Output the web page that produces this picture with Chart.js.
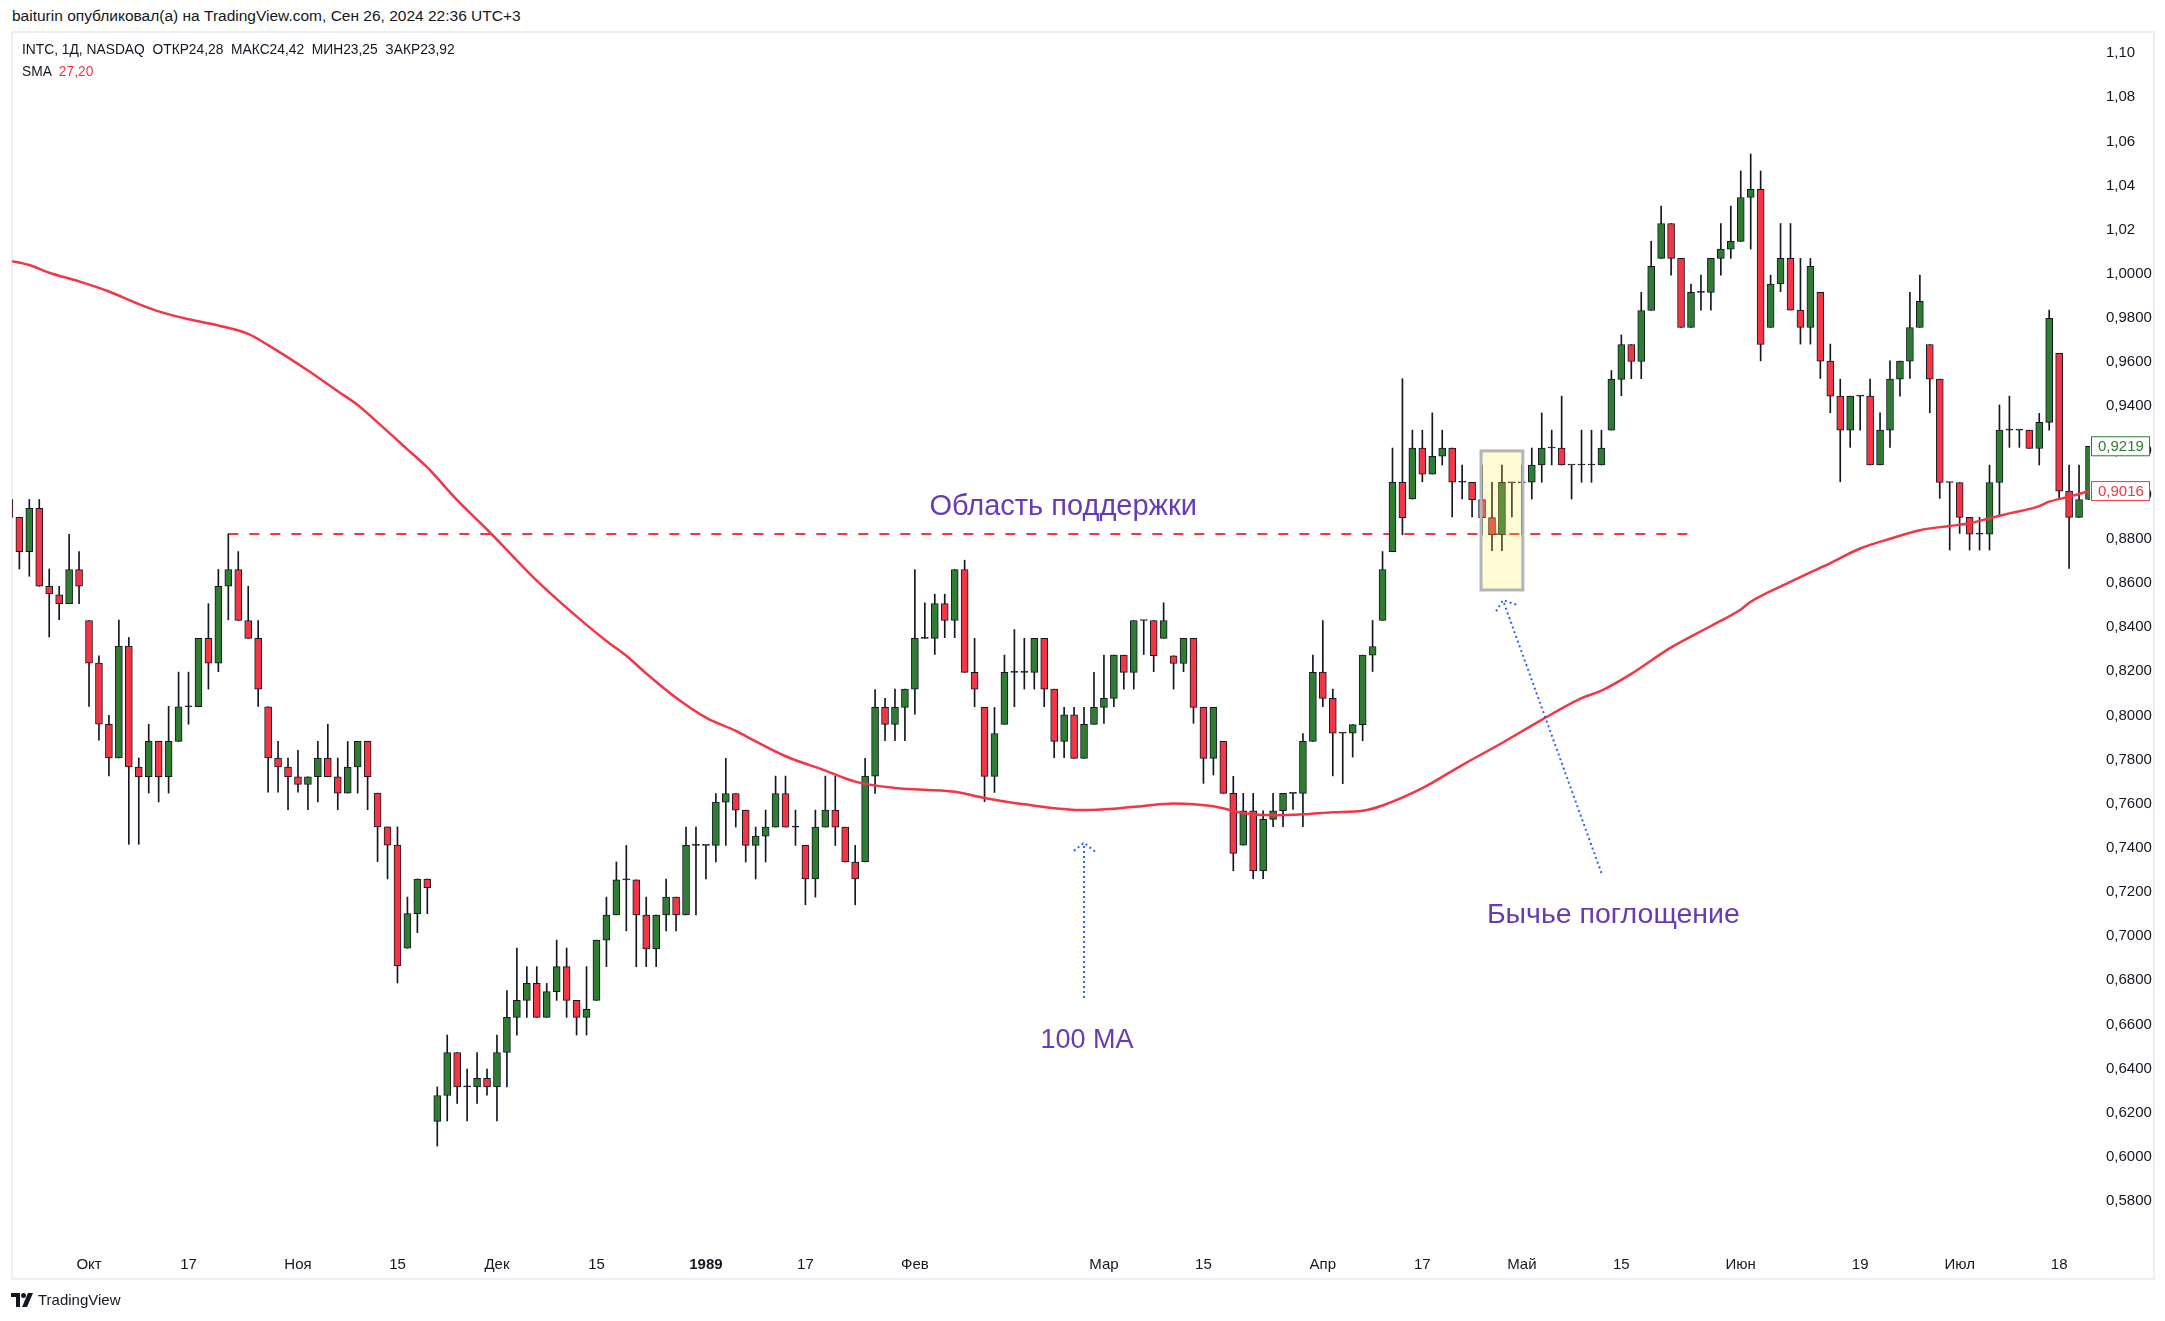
<!DOCTYPE html>
<html>
<head>
<meta charset="utf-8">
<script src="https://cdn.jsdelivr.net/npm/chart.js@4.4.1/dist/chart.umd.min.js"></script>
<style>
  html, body { margin: 0; padding: 0; background: #fff; }
  body { width: 2165px; height: 1321px; position: relative; overflow: hidden;
         font-family: "Liberation Sans", Arial, sans-serif; color: #131722; }
  .byline { position: absolute; left: 12px; top: 7px; font-size: 15.5px; white-space: pre; }
  .panel { position: absolute; left: 11px; top: 31px; width: 2144px; height: 1249px;
           border: 2px solid #eceef3; box-sizing: border-box; }
  .legend { position: absolute; left: 22px; font-size: 13.8px; white-space: pre; line-height: 18px; }
  .legend .red { color: #f23645; }
  #wrap { position: absolute; left: 0; top: 0; width: 2165px; height: 1321px; }
  .brand { position: absolute; left: 11px; top: 1291px; font-size: 15px; display: flex; align-items: center; gap: 5px; }
</style>
</head>
<body>
<div class="byline">baiturin опубликовал(а) на TradingView.com, Сен 26, 2024 22:36 UTC+3</div>
<div class="panel"></div>
<div id="wrap"><canvas id="chart" width="2165" height="1321"></canvas></div>
<div class="legend" style="top:41px">INTC, 1Д, NASDAQ  ОТКР24,28  МАКС24,42  МИН23,25  ЗАКР23,92</div>
<div class="legend" style="top:63px">SMA  <span class="red">27,20</span></div>
<div class="brand">
  <svg width="22" height="14" viewBox="0 0 22 14"><path d="M0 0h9v14H5V4H0z" fill="#131722"/><circle cx="12.5" cy="2.5" r="2.5" fill="#131722"/><path d="M17 0h5l-6 14h-5z" fill="#131722"/></svg>
  <span>TradingView</span>
</div>
<script>
console.log("chart loaded");

// daily candles, index 0 = first visible session (late Sep 1988)
const opens = [
  0.8978,0.8897,0.8742,0.8938,0.8585,0.8546,0.8506,0.8661,0.8430,0.8237,
  0.7960,0.7807,0.8314,0.7766,0.7722,0.7882,0.7722,0.7882,0.8039,0.8039,
  0.8349,0.8237,0.8585,0.8661,0.8430,0.8349,0.8039,0.7807,0.7766,0.7722,
  0.7687,0.7722,0.7807,0.7722,0.7648,0.7766,0.7882,0.7648,0.7495,0.7412,
  0.6945,0.7102,0.7259,0.6161,0.6278,0.6473,0.6317,0.6317,0.6356,0.6317,
  0.6473,0.6632,0.6709,0.6786,0.6632,0.6749,0.6862,0.6709,0.6632,0.6709,
  0.6982,0.7096,0.7255,0.7255,0.7096,0.6942,0.7096,0.7177,0.7096,0.7411,
  0.7411,0.7411,0.7607,0.7646,0.7571,0.7411,0.7453,0.7494,0.7646,0.7494,
  0.7411,0.7259,0.7494,0.7571,0.7494,0.7336,0.7336,0.7725,0.8036,0.7959,
  0.8036,0.8119,0.8349,0.8349,0.8507,0.8430,0.8661,0.8195,0.8036,0.7724,
  0.7959,0.8195,0.8195,0.8195,0.8349,0.8119,0.7882,0.8002,0.7805,0.7959,
  0.8036,0.8077,0.8273,0.8195,0.8430,0.8430,0.8349,0.8270,0.8235,0.8349,
  0.8036,0.7805,0.7882,0.7647,0.7412,0.7568,0.7295,0.7529,0.7568,0.7647,
  0.7647,0.7882,0.8196,0.8077,0.7920,0.7920,0.7958,0.8273,0.8430,0.8742,
  0.9056,0.8980,0.9211,0.9093,0.9174,0.9211,0.9056,0.9056,0.8977,0.8896,
  0.8818,0.9053,0.9053,0.9056,0.9134,0.9211,0.9211,0.9134,0.9134,0.9134,
  0.9134,0.9292,0.9522,0.9680,0.9603,0.9834,1.0070,1.0228,1.0070,0.9757,
  0.9916,0.9916,1.0070,1.0112,1.0147,1.0346,1.0383,0.9757,0.9954,1.0070,
  0.9836,0.9757,0.9916,0.9605,0.9446,0.9292,0.9446,0.9446,0.9134,0.9292,
  0.9523,0.9605,0.9757,0.9680,0.9523,0.9055,0.9055,0.8897,0.8821,0.8821,
  0.9055,0.9292,0.9292,0.9292,0.9209,0.9327,0.9640,0.9016,0.8897,0.8978
];
const highs = [
  0.8978,0.8897,0.8978,0.8978,0.8663,0.8585,0.8820,0.8742,0.8430,0.8270,
  0.8000,0.8432,0.8353,0.7807,0.7960,0.7882,0.8041,0.8196,0.8196,0.8349,
  0.8506,0.8661,0.8822,0.8742,0.8585,0.8430,0.8039,0.7882,0.7807,0.7842,
  0.7722,0.7882,0.7960,0.7807,0.7882,0.7882,0.7882,0.7648,0.7495,0.7495,
  0.7177,0.7259,0.7259,0.6317,0.6552,0.6473,0.6398,0.6473,0.6398,0.6552,
  0.6753,0.6946,0.6862,0.6862,0.6786,0.6982,0.6946,0.6709,0.6862,0.6982,
  0.7177,0.7336,0.7411,0.7255,0.7177,0.7096,0.7259,0.7177,0.7494,0.7494,
  0.7411,0.7646,0.7805,0.7646,0.7571,0.7494,0.7571,0.7725,0.7725,0.7571,
  0.7411,0.7571,0.7725,0.7725,0.7494,0.7411,0.7805,0.8117,0.8077,0.8119,
  0.8119,0.8661,0.8510,0.8549,0.8549,0.8661,0.8703,0.8349,0.8036,0.8036,
  0.8273,0.8389,0.8349,0.8349,0.8349,0.8119,0.8036,0.8036,0.8036,0.8195,
  0.8273,0.8273,0.8273,0.8430,0.8430,0.8430,0.8510,0.8270,0.8349,0.8349,
  0.8036,0.8036,0.7882,0.7724,0.7647,0.7647,0.7568,0.7647,0.7647,0.7647,
  0.7918,0.8273,0.8430,0.8119,0.7920,0.7958,0.8273,0.8430,0.8742,0.9211,
  0.9525,0.9292,0.9292,0.9370,0.9292,0.9211,0.9134,0.9056,0.9134,0.9056,
  0.9134,0.9053,0.9134,0.9211,0.9370,0.9292,0.9446,0.9134,0.9292,0.9292,
  0.9292,0.9562,0.9723,0.9680,0.9916,1.0148,1.0307,1.0228,1.0070,0.9954,
  0.9994,1.0070,1.0228,1.0307,1.0466,1.0543,1.0466,0.9994,1.0228,1.0228,
  1.0070,1.0070,0.9916,0.9682,0.9523,0.9446,0.9446,0.9523,0.9371,0.9606,
  0.9605,0.9916,0.9994,0.9680,0.9523,0.9055,0.9055,0.8897,0.8897,0.9134,
  0.9406,0.9446,0.9292,0.9292,0.9368,0.9836,0.9640,0.9134,0.9134,0.9219
];
const lows = [
  0.8880,0.8663,0.8630,0.8585,0.8355,0.8433,0.8506,0.8506,0.8041,0.7888,
  0.7726,0.7807,0.7416,0.7416,0.7648,0.7608,0.7648,0.7882,0.7960,0.8039,
  0.8119,0.8198,0.8433,0.8430,0.8349,0.8041,0.7652,0.7652,0.7573,0.7652,
  0.7573,0.7608,0.7722,0.7573,0.7648,0.7648,0.7573,0.7338,0.7259,0.6788,
  0.6945,0.7016,0.7102,0.6049,0.6163,0.6242,0.6163,0.6242,0.6280,0.6163,
  0.6317,0.6552,0.6632,0.6632,0.6632,0.6709,0.6632,0.6552,0.6552,0.6709,
  0.6862,0.7096,0.7024,0.6862,0.6862,0.6862,0.7024,0.7024,0.7096,0.7096,
  0.7259,0.7336,0.7411,0.7494,0.7336,0.7259,0.7336,0.7494,0.7494,0.7411,
  0.7142,0.7177,0.7494,0.7411,0.7336,0.7142,0.7336,0.7646,0.7885,0.7885,
  0.7885,0.8006,0.8349,0.8276,0.8352,0.8352,0.8195,0.8039,0.7609,0.7651,
  0.7959,0.8039,0.8119,0.8119,0.8039,0.7808,0.7808,0.7805,0.7805,0.7959,
  0.7964,0.8039,0.8119,0.8119,0.8276,0.8198,0.8349,0.8119,0.8198,0.7964,
  0.7692,0.7730,0.7647,0.7296,0.7412,0.7260,0.7260,0.7496,0.7496,0.7574,
  0.7496,0.7882,0.8039,0.7726,0.7691,0.7811,0.7885,0.8199,0.8430,0.8742,
  0.8818,0.8980,0.9058,0.9093,0.9134,0.8899,0.8980,0.8899,0.8818,0.8746,
  0.8746,0.8899,0.8818,0.8980,0.9056,0.9134,0.9134,0.8980,0.9056,0.9056,
  0.9134,0.9292,0.9448,0.9525,0.9525,0.9834,1.0070,0.9994,0.9757,0.9757,
  0.9836,0.9836,0.9994,1.0070,1.0147,1.0112,0.9606,0.9757,0.9919,0.9836,
  0.9682,0.9682,0.9526,0.9371,0.9058,0.9214,0.9292,0.9134,0.9134,0.9214,
  0.9446,0.9526,0.9757,0.9371,0.8983,0.8749,0.8824,0.8749,0.8749,0.8749,
  0.8900,0.9214,0.9214,0.9209,0.9134,0.9292,0.8983,0.8666,0.8897,0.8978
];
const closes = [
  0.8897,0.8742,0.8938,0.8585,0.8550,0.8506,0.8661,0.8585,0.8237,0.7960,
  0.7807,0.8314,0.7766,0.7722,0.7882,0.7722,0.7882,0.8039,0.8039,0.8349,
  0.8237,0.8585,0.8661,0.8430,0.8349,0.8119,0.7807,0.7766,0.7722,0.7687,
  0.7722,0.7807,0.7722,0.7648,0.7766,0.7882,0.7722,0.7495,0.7412,0.6866,
  0.7102,0.7259,0.7220,0.6278,0.6473,0.6317,0.6317,0.6356,0.6317,0.6473,
  0.6632,0.6709,0.6786,0.6632,0.6749,0.6862,0.6709,0.6632,0.6669,0.6982,
  0.7096,0.7255,0.7255,0.7096,0.6942,0.7096,0.7177,0.7096,0.7411,0.7411,
  0.7411,0.7607,0.7646,0.7571,0.7411,0.7453,0.7494,0.7646,0.7494,0.7494,
  0.7259,0.7494,0.7571,0.7494,0.7336,0.7259,0.7725,0.8037,0.7959,0.8036,
  0.8119,0.8349,0.8349,0.8507,0.8430,0.8661,0.8195,0.8119,0.7724,0.7918,
  0.8195,0.8195,0.8195,0.8349,0.8119,0.7882,0.8002,0.7805,0.7959,0.8036,
  0.8077,0.8273,0.8195,0.8430,0.8430,0.8270,0.8430,0.8235,0.8349,0.8036,
  0.7805,0.8036,0.7647,0.7375,0.7568,0.7295,0.7529,0.7568,0.7647,0.7647,
  0.7882,0.8195,0.8077,0.7920,0.7920,0.7958,0.8273,0.8312,0.8661,0.9056,
  0.8896,0.9211,0.9093,0.9174,0.9211,0.9056,0.9056,0.8977,0.8896,0.8818,
  0.9056,0.9053,0.9053,0.9134,0.9211,0.9211,0.9134,0.9134,0.9134,0.9134,
  0.9211,0.9522,0.9680,0.9603,0.9834,1.0034,1.0228,1.0070,0.9757,0.9916,
  0.9916,1.0070,1.0112,1.0147,1.0346,1.0383,0.9680,0.9954,1.0070,0.9836,
  0.9757,1.0034,0.9605,0.9446,0.9292,0.9446,0.9446,0.9134,0.9292,0.9523,
  0.9605,0.9757,0.9875,0.9523,0.9055,0.9055,0.8897,0.8821,0.8821,0.9055,
  0.9292,0.9292,0.9292,0.9209,0.9327,0.9798,0.9016,0.8897,0.8978,0.9219
];

// 100-day SMA at these session indices
const smaIdx = [0,2,4,7,10,13,15,18,21,24,26,30,33,35,37,40,42,45,48,50,53,56,60,62,64,67,70,73,75,78,
  82,85,89,95,98,102,108,111,114,117,119,121,124,127,130,133,136,138,142,146,150,154,158,160,163,167,171,
  174,175,179,183,186,189,192,195,197,199,201,204,205,207,209];
const smaVal = [1.0060,1.0040,1.0005,0.9966,0.9920,0.9863,0.9830,0.9794,0.9766,0.9728,0.9677,0.9562,0.9468,
  0.9406,0.9327,0.9205,0.9123,0.8975,0.8842,0.8749,0.8610,0.8487,0.8337,0.8270,0.8190,0.8080,0.7990,0.7930,
  0.7882,0.7815,0.7750,0.7700,0.7671,0.7654,0.7626,0.7597,0.7571,0.7577,0.7590,0.7601,0.7598,0.7588,0.7558,
  0.7548,0.7552,0.7561,0.7568,0.7592,0.7670,0.7775,0.7875,0.7980,0.8078,0.8112,0.8188,0.8308,0.8405,0.8480,
  0.8515,0.8605,0.8690,0.8756,0.8800,0.8839,0.8858,0.8870,0.8893,0.8915,0.8948,0.8968,0.8990,0.9016];

// support level (dashed) and its span in sessions
const supportLevel = 0.8822;
const supportSpan = [22, 169];

// axis ticks
const yTickVals = [1.10,1.08,1.06,1.04,1.02,1.00,0.98,0.96,0.94,0.92,0.90,0.88,0.86,0.84,0.82,0.80,
  0.78,0.76,0.74,0.72,0.70,0.68,0.66,0.64,0.62,0.60,0.58];
const yTickText = ['1,10','1,08','1,06','1,04','1,02','1,0000','0,9800','0,9600','0,9400','0,9200','0,9000',
  '0,8800','0,8600','0,8400','0,8200','0,8000','0,7800','0,7600','0,7400','0,7200','0,7000','0,6800',
  '0,6600','0,6400','0,6200','0,6000','0,5800'];
const xTickIdx = [8,18,29,39,49,59,70,80,91,110,120,132,142,152,162,174,186,196,206];
const xTickText = ['Окт','17','Ноя','15','Дек','15','1989','17','Фев','Мар','15','Апр','17','Май','15',
  'Июн','19','Июл','18'];

// drawings on the chart (session index, price)
const notes = [
  { text: 'Область поддержки', at: [105.9, 0.8944], size: 29 },
  { text: '100 MA', at: [108.3, 0.6529], size: 27 },
  { text: 'Бычье поглощение', at: [161.2, 0.7096], size: 28.5 }
];
const arrows = [
  { from: [108.0, 0.6720], to: [108.0, 0.7423] },
  { from: [160.0, 0.7286], to: [150.1, 0.8522] }
];
const engulfBox = { x0: 147.9, x1: 152.1, top: 0.9198, bottom: 0.8568 };

const UP = '#2e7d32';
const DOWN = '#f23645';
const NOTE = '#673ab7';
const ARROW = '#2962ff';

const bodyColors = opens.map((o, i) => closes[i] > o ? UP : (closes[i] < o ? DOWN : '#131722'));

const drawings = {
  id: 'drawings',
  afterDatasetsDraw(chart) {
    const { ctx, scales: { x, y }, chartArea } = chart;
    ctx.save();
    ctx.beginPath();
    ctx.rect(chartArea.left, chartArea.top, chartArea.right - chartArea.left, chartArea.bottom - chartArea.top);
    ctx.clip();

    // highlight box
    const bx0 = x.getPixelForValue(engulfBox.x0), bx1 = x.getPixelForValue(engulfBox.x1);
    const by0 = y.getPixelForValue(engulfBox.top), by1 = y.getPixelForValue(engulfBox.bottom);
    ctx.fillStyle = 'rgba(255, 235, 59, 0.22)';
    ctx.fillRect(bx0, by0, bx1 - bx0, by1 - by0);
    ctx.strokeStyle = '#b2b5be';
    ctx.lineWidth = 3;
    ctx.strokeRect(bx0, by0, bx1 - bx0, by1 - by0);

    // dotted arrows
    ctx.strokeStyle = ARROW;
    ctx.lineWidth = 2;
    ctx.setLineDash([2, 3]);
    arrows.forEach(a => {
      const x0 = x.getPixelForValue(a.from[0]), y0 = y.getPixelForValue(a.from[1]);
      const x1 = x.getPixelForValue(a.to[0]), y1 = y.getPixelForValue(a.to[1]);
      ctx.beginPath();
      ctx.moveTo(x0, y0);
      ctx.lineTo(x1, y1);
      const ang = Math.atan2(y0 - y1, x0 - x1);
      const len = 14, spread = 0.9;
      ctx.moveTo(x1 + len * Math.cos(ang - spread), y1 + len * Math.sin(ang - spread));
      ctx.lineTo(x1, y1);
      ctx.lineTo(x1 + len * Math.cos(ang + spread), y1 + len * Math.sin(ang + spread));
      ctx.stroke();
    });
    ctx.setLineDash([]);

    // text notes
    ctx.fillStyle = NOTE;
    ctx.textAlign = 'center';
    ctx.textBaseline = 'middle';
    notes.forEach(n => {
      ctx.font = n.size + 'px "Liberation Sans", Arial, sans-serif';
      ctx.fillText(n.text, x.getPixelForValue(n.at[0]), y.getPixelForValue(n.at[1]));
    });
    ctx.restore();
  },
  afterDraw(chart) {
    const { ctx, scales: { y }, chartArea } = chart;
    const tags = [
      { v: closes[closes.length - 1], c: UP },
      { v: smaVal[smaVal.length - 1], c: DOWN }
    ];
    ctx.save();
    ctx.font = '15px "Liberation Sans", Arial, sans-serif';
    ctx.textBaseline = 'middle';
    ctx.textAlign = 'left';
    tags.forEach(t => {
      const py = y.getPixelForValue(t.v);
      const left = chartArea.right + 1;
      ctx.fillStyle = '#fff';
      ctx.fillRect(left, py - 10, 58, 20);
      ctx.strokeStyle = t.c;
      ctx.lineWidth = 1;
      ctx.strokeRect(left + 0.5, py - 9.5, 58, 19);
      ctx.fillStyle = t.c;
      ctx.fillText(t.v.toFixed(4).replace('.', ','), left + 7, py + 1);
    });
    ctx.restore();
  }
};

new Chart(document.getElementById('chart'), {
  type: 'bar',
  data: {
    datasets: [
      {
        type: 'line',
        label: 'SMA',
        data: smaIdx.map((i, k) => ({ x: i, y: smaVal[k] })),
        borderColor: DOWN,
        borderWidth: 2.5,
        pointRadius: 0,
        cubicInterpolationMode: 'monotone',
        order: 0
      },
      {
        label: 'body',
        data: opens.map((o, i) => ({ x: i, y: [o, closes[i]] })),
        backgroundColor: bodyColors,
        borderColor: '#131722',
        borderWidth: 1,
        borderSkipped: false,
        barThickness: 7,
        minBarLength: 1,
        grouped: false,
        order: 1
      },
      {
        label: 'wick',
        data: lows.map((l, i) => ({ x: i, y: [l, highs[i]] })),
        backgroundColor: '#131722',
        borderWidth: 0,
        barThickness: 1,
        grouped: false,
        order: 2
      },
      {
        type: 'line',
        label: 'support',
        data: supportSpan.map(i => ({ x: i, y: supportLevel })),
        borderColor: DOWN,
        borderWidth: 2,
        borderDash: [10, 11],
        pointRadius: 0,
        order: 3
      }
    ]
  },
  options: {
    responsive: false,
    devicePixelRatio: 1,
    animation: false,
    layout: { padding: { left: 12, top: 33, right: 10, bottom: 42 } },
    plugins: { legend: { display: false }, tooltip: { enabled: false } },
    scales: {
      x: {
        type: 'linear',
        min: 0.26,
        max: 209.1,
        offset: false,
        grid: { display: false },
        border: { display: false },
        afterBuildTicks: s => { s.ticks = xTickIdx.map(v => ({ value: v })); },
        afterFit: s => { s.height = 34; },
        ticks: {
          autoSkip: false,
          maxRotation: 0,
          padding: 3,
          color: '#131722',
          font: ctx => ({
            family: '"Liberation Sans", Arial, sans-serif',
            size: 15,
            weight: ctx.tick && ctx.tick.label === '1989' ? 'bold' : 'normal'
          }),
          callback: (v, i) => xTickText[i]
        }
      },
      y: {
        type: 'linear',
        position: 'right',
        min: 0.5601,
        max: 1.1091,
        beginAtZero: false,
        grid: { display: false },
        border: { display: false },
        afterBuildTicks: s => { s.ticks = yTickVals.map(v => ({ value: v })); },
        afterFit: s => { s.width = 65; },
        ticks: {
          crossAlign: 'near',
          padding: 8,
          color: '#131722',
          font: { family: '"Liberation Sans", Arial, sans-serif', size: 15 },
          callback: (v, i) => yTickText[i]
        }
      }
    }
  },
  plugins: [drawings]
});
</script>
</body>
</html>
